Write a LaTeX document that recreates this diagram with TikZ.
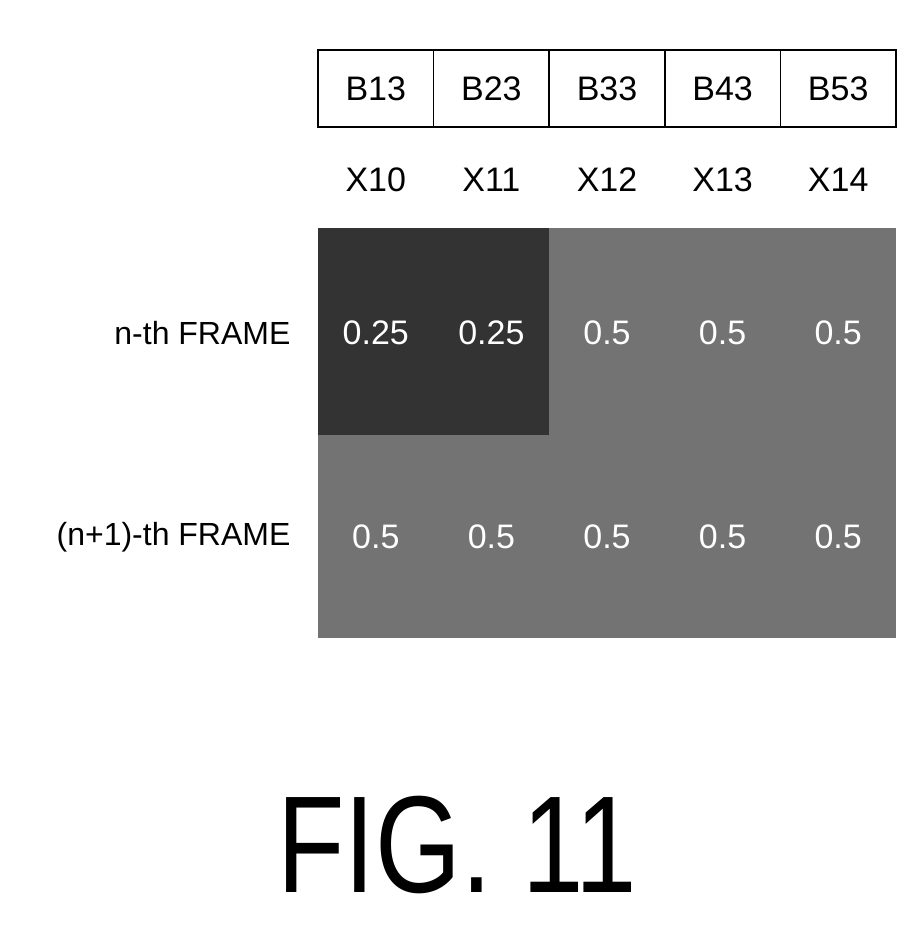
\documentclass[tikz,border=0pt]{standalone}
\usepackage{fontspec}
\setmainfont{Liberation Sans}
\begin{document}
\begin{tikzpicture}[x=1pt,y=-1pt,
  cellbox/.style={draw,line width=1.5pt,minimum width=115.6pt,minimum height=77pt,inner sep=0pt,font=\fontsize{34}{36}\selectfont},
  xlab/.style={font=\fontsize{34}{36}\selectfont},
  val/.style={text=white,font=\fontsize{34}{36}\selectfont},
  rowlab/.style={anchor=east,font=\fontsize{32}{34}\selectfont}]
\useasboundingbox (0,0) rectangle (922,927);
\fill[gray!95!black,fill=black!55] (318,228) rectangle (896,638);
\fill[black!80] (318,228) rectangle (549,435);
\foreach \i/\b/\x in {0/B13/X10,1/B23/X11,2/B33/X12,3/B43/X13,4/B53/X14}{
  \node[cellbox,xscale=1] (b\i) at ({375.8+115.6*\i},88.5) {\b};
  \node[xlab] (x\i) at ({375.8+115.6*\i},180) {\x};
}
\foreach \i/\v in {0/0.25,1/0.25,2/0.5,3/0.5,4/0.5}{
  \node[val] (n\i) at ({375.8+115.6*\i},333) {\v};
  \node[val] (m\i) at ({375.8+115.6*\i},537) {0.5};
}
\node[rowlab] (r1) at (294,333) {n-th FRAME};
\node[rowlab] (r2) at (294,537) {(n+1)-th FRAME};
\node[xscale=0.8,font=\fontsize{138}{140}\selectfont] (fig) at (457,845) {FIG. 11};
\end{tikzpicture}
\end{document}
